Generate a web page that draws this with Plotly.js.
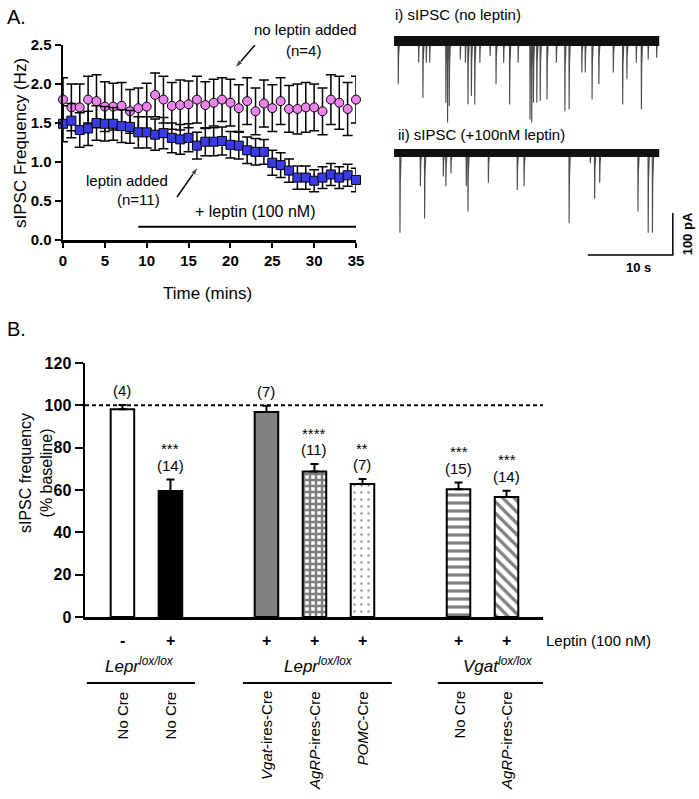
<!DOCTYPE html>
<html>
<head>
<meta charset="utf-8">
<script src="https://cdn.plot.ly/plotly-3.0.1.min.js"></script>
<style>html,body{margin:0;padding:0;background:#fff;}#chart{width:699px;height:799px;}</style>
</head>
<body>
<div id="chart"></div>
<script>
// ---------- Panel A data: time course ----------
const timeMins = [0,1,2,3,4,5,6,7,8,9,10,11,12,13,14,15,16,17,18,19,20,21,22,23,24,25,26,27,28,29,30,31,32,33,34,35];
const noLeptinMean = [1.80,1.70,1.70,1.80,1.78,1.71,1.71,1.72,1.65,1.69,1.71,1.86,1.80,1.72,1.73,1.74,1.80,1.73,1.76,1.80,1.76,1.69,1.78,1.65,1.75,1.69,1.78,1.68,1.68,1.70,1.70,1.65,1.80,1.76,1.68,1.80];
const noLeptinSem = [0.28,0.30,0.30,0.30,0.34,0.32,0.30,0.30,0.28,0.26,0.30,0.28,0.30,0.30,0.32,0.30,0.30,0.30,0.30,0.28,0.30,0.30,0.30,0.30,0.30,0.30,0.30,0.30,0.32,0.32,0.30,0.30,0.32,0.34,0.34,0.30];
const leptinMean = [1.49,1.53,1.41,1.43,1.50,1.49,1.49,1.46,1.45,1.38,1.38,1.35,1.37,1.31,1.29,1.31,1.21,1.26,1.26,1.27,1.22,1.21,1.15,1.13,1.13,0.99,0.96,0.89,0.80,0.80,0.76,0.80,0.84,0.80,0.83,0.77];
const leptinSem = [0.23,0.22,0.22,0.22,0.22,0.22,0.21,0.21,0.21,0.20,0.20,0.20,0.20,0.19,0.19,0.18,0.17,0.18,0.18,0.18,0.17,0.17,0.17,0.17,0.16,0.16,0.16,0.15,0.15,0.15,0.14,0.14,0.14,0.14,0.14,0.15];
const panelATicks = [0,5,10,15,20,25,30,35];
const panelAYTicks = [0,0.5,1.0,1.5,2.0,2.5];
const leptinStart = 9, leptinEnd = 35;

// ---------- Example traces (event times in s, amplitudes in pA) ----------
const trace1Times = [0.5,2.9,3.4,3.8,4.2,6.1,6.3,6.5,7.8,8.4,8.7,9.1,9.5,10.1,11.3,12.0,12.9,13.6,14.6,16.0,16.2,16.4,16.8,17.2,18.0,19.1,20.1,20.6,22.1,22.5,23.3,24.1,25.8,26.9,27.4,28.5,29.1,29.9,30.9];
const trace1Amps  = [103,52,135,52,52,147,194,155,44,52,151,131,151,52,36,103,52,151,52,187,194,147,147,143,139,52,167,163,75,75,139,103,75,151,91,52,163,44,40];
const trace2Times = [0.7,3.1,3.6,5.8,6.1,6.7,8.5,8.7,11.1,14.5,15.3,20.6,23.1,23.6,24.2,28.7,29.9,30.4];
const trace2Amps  = [190,79,156,56,79,48,79,139,71,88,79,167,24,109,71,139,190,190];
const traceDuration = 31.2;
const scaleBarSec = 10, scaleBarPA = 100;

// ---------- Panel B data: bars ----------
const barGroups = [0,0,1,1,1,2,2];
const barMeans = [98.2,59.5,96.8,68.7,62.8,60.3,56.7];
const barSem   = [2.0,5.5,3.0,3.6,2.4,3.2,3.0];
const barN     = ['(4)','(14)','(7)','(11)','(7)','(15)','(14)'];
const barStars = ['','***','','****','**','***','***'];
const leptinSigns = ['-','+','+','+','+','+','+'];
const creLabels = ['No Cre','No Cre','<i>Vgat</i>-ires-Cre','<i>AgRP</i>-ires-Cre','<i>POMC</i>-Cre','No Cre','<i>AgRP</i>-ires-Cre'];
const groupLabels = ['<i>Lepr</i><sup><i>lox/lox</i></sup>','<i>Lepr</i><sup><i>lox/lox</i></sup>','<i>Vgat</i><sup><i>lox/lox</i></sup>'];
const panelBYTicks = [0,20,40,60,80,100,120];
const baselineRef = 100;

// ---------- helpers ----------
const W = 699, H = 799;
const px = v => v / W;
const py = v => (H - v) / H;
const FONT = 'Arial, "Liberation Sans", sans-serif';
const barX = barGroups.map((g, i) => i + g);
// panel A pixel -> data helpers (for annotation arrows only)
const ax0 = 63, axW = 293, ay0 = 240, ayH = 195;
const tA = p => (p - ax0) / axW * 35;
const vA = p => (ay0 - p) / ayH * 2.5;

const data = [];
// Panel A
data.push({
  type:'scatter', mode:'markers', x:timeMins, y:noLeptinMean, xaxis:'x', yaxis:'y', cliponaxis:false,
  error_y:{type:'data', array:noLeptinSem, color:'#000', thickness:1.5, width:5},
  marker:{symbol:'circle', size:9, color:'#ee82ee', line:{color:'#000', width:1}}
});
data.push({
  type:'scatter', mode:'markers', x:timeMins, y:leptinMean, xaxis:'x', yaxis:'y', cliponaxis:false,
  error_y:{type:'data', array:leptinSem, color:'#000', thickness:1.5, width:5},
  marker:{symbol:'square', size:9, color:'#3a3ae6', line:{color:'#000', width:1}}
});
data.push({type:'scatter', mode:'lines', x:[leptinStart, leptinEnd], y:[0.17,0.17], xaxis:'x', yaxis:'y', line:{color:'#000', width:2}, cliponaxis:false});
// arrows
[[[255,45],[235,68]], [[177,197],[198,167]]].forEach(([tail, head]) => {
  data.push({type:'scatter', mode:'lines+markers', x:[tA(tail[0]), tA(head[0])], y:[vA(tail[1]), vA(head[1])], xaxis:'x', yaxis:'y', cliponaxis:false,
    line:{color:'#000', width:1.5}, marker:{symbol:['circle','arrow'], size:[0,9], angleref:'previous', color:'#000'}});
});

// Example traces
function buildTrace(times, amps, base) {
  const xs = [], ys = [];
  times.forEach((t, i) => {
    xs.push(t - 0.02, t, t + 0.04, t + 0.15, null);
    ys.push(base, base - amps[i], base - amps[i]*0.35, base, null);
  });
  return {xs, ys};
}
const base1 = 0, base2 = -266.7;
[[trace1Times, trace1Amps, base1, 10],[trace2Times, trace2Amps, base2, 8]].forEach(([tt, aa, b, w]) => {
  const tr = buildTrace(tt, aa, b);
  data.push({type:'scatter', mode:'lines', x:tr.xs, y:tr.ys, xaxis:'x2', yaxis:'y2', line:{color:'#4a4a4a', width:1.1}, connectgaps:false});
  data.push({type:'scatter', mode:'lines', x:[0, traceDuration], y:[b, b], xaxis:'x2', yaxis:'y2', line:{color:'#111', width:w}});
});
const sbX0 = 22.8, sbY0 = -509.5;
data.push({type:'scatter', mode:'lines', x:[sbX0, sbX0 + scaleBarSec, sbX0 + scaleBarSec], y:[sbY0, sbY0, sbY0 + scaleBarPA], xaxis:'x2', yaxis:'y2', line:{color:'#000', width:1.5}});

// Panel B bars
const barStyles = [
  {color:'#fff'},
  {color:'#000'},
  {color:'#808080'},
  {color:'#fff', pattern:{shape:'+', fgcolor:'#000', bgcolor:'#fff', size:6, solidity:0.65, fillmode:'overlay'}},
  {color:'#fff', pattern:{shape:'.', fgcolor:'#333', bgcolor:'#fff', size:7, solidity:0.1, fillmode:'overlay'}},
  {color:'#fff', pattern:{shape:'-', fgcolor:'#000', bgcolor:'#fff', size:8, solidity:0.4, fillmode:'overlay'}},
  {color:'#fff', pattern:{shape:'\\', fgcolor:'#000', bgcolor:'#fff', size:8, solidity:0.4, fillmode:'overlay'}}
];
barMeans.forEach((m, i) => {
  const mk = {color:barStyles[i].color, line:{color:'#000', width:2}};
  if (barStyles[i].pattern) mk.pattern = barStyles[i].pattern;
  data.push({
    type:'bar', x:[barX[i]], y:[m], width:0.49, xaxis:'x3', yaxis:'y3', marker:mk,
    error_y:{type:'data', symmetric:false, array:[barSem[i]], arrayminus:[0], color:'#000', thickness:2, width:4}
  });
});

const tickFontBold = {family:FONT, size:15, color:'#000', weight:'bold'};
const layout = {
  width:W, height:H, margin:{l:0,r:0,t:0,b:0}, paper_bgcolor:'#fff', plot_bgcolor:'rgba(0,0,0,0)',
  showlegend:false, font:{family:FONT, color:'#000'},
  xaxis:{domain:[px(63), px(356)], range:[0,35], anchor:'y', showline:true, linewidth:2.5, linecolor:'#000',
    ticks:'outside', ticklen:5, tickwidth:2, tickcolor:'#000', tickvals:panelATicks, showgrid:false, zeroline:false, tickfont:tickFontBold},
  yaxis:{domain:[py(240), py(45)], range:[0,2.5], anchor:'x', showline:true, linewidth:2.5, linecolor:'#000',
    ticks:'outside', ticklen:6, tickwidth:2, tickcolor:'#000', tickvals:panelAYTicks, tickformat:'.1f', showgrid:false, zeroline:false, tickfont:tickFontBold},
  xaxis2:{domain:[px(385), px(690)], range:[-1.06, 34.82], anchor:'y2', visible:false},
  yaxis2:{domain:[py(280), py(5)], range:[-569, 85.7], anchor:'x2', visible:false},
  xaxis3:{domain:[px(85), px(543)], range:[-0.78, 8.76], anchor:'y3', showline:true, linewidth:2.5, linecolor:'#000',
    ticks:'', showticklabels:false, showgrid:false, zeroline:false},
  yaxis3:{domain:[py(617), py(363)], range:[0,120], anchor:'x3', showline:true, linewidth:2.5, linecolor:'#000',
    ticks:'outside', ticklen:8, tickwidth:2, tickcolor:'#000', tickvals:panelBYTicks, showgrid:false, zeroline:false,
    tickfont:{family:FONT, size:16, color:'#000', weight:'bold'}},
  shapes:[], annotations:[]
};

const A = layout.annotations, S = layout.shapes;
const txt = (o) => A.push(Object.assign({showarrow:false, xanchor:'center', yanchor:'middle', font:{family:FONT, size:15, color:'#000'}}, o));
const P = (x, y, o) => txt(Object.assign({xref:'paper', yref:'paper', x:px(x), y:py(y)}, o));

// Panel labels and titles
P(5, 17, {text:'A.', xanchor:'left', font:{family:FONT, size:20}});
P(5, 329, {text:'B.', xanchor:'left', font:{family:FONT, size:20}});
P(20, 143, {text:'sIPSC Frequency (Hz)', textangle:-90, font:{family:FONT, size:17}});
P(207, 293, {text:'Time (mins)', font:{family:FONT, size:17}});
P(36, 473, {text:'sIPSC frequency<br>(% baseline)', textangle:-90, font:{family:FONT, size:16}});

// Panel A annotations
P(305, 30, {text:'no leptin added'});
P(303, 50, {text:'(n=4)'});
P(127, 180, {text:'leptin added'});
P(138, 200, {text:'(n=11)'});
P(255, 212, {text:'+ leptin (100 nM)', font:{family:FONT, size:16}});

// Example trace labels
P(393, 14, {text:'i) sIPSC (no leptin)', xanchor:'left'});
P(396, 135, {text:'ii) sIPSC (+100nM leptin)', xanchor:'left'});
txt({text:'<b>10 s</b>', xref:'x2', yref:'y2', x:sbX0 + scaleBarSec*0.6, y:sbY0, yanchor:'top', yshift:-3, font:{family:FONT, size:13}});
txt({text:'<b>100 pA</b>', xref:'x2', yref:'y2', x:sbX0 + scaleBarSec, y:sbY0 + scaleBarPA/2, xanchor:'left', xshift:5, textangle:-90, font:{family:FONT, size:13}});

// Panel B
S.push({type:'line', xref:'x3', yref:'y3', x0:-0.78, x1:8.76, y0:baselineRef, y1:baselineRef, line:{color:'#000', width:2, dash:'4px,3px'}});
barMeans.forEach((m, i) => {
  const top = m + barSem[i];
  txt({text:barN[i], xref:'x3', yref:'y3', x:barX[i], y:top + 6.8, font:{family:FONT, size:15}});
  if (barStars[i]) txt({text:barStars[i], xref:'x3', yref:'y3', x:barX[i], y:top + 14.5, font:{family:FONT, size:15}});
  txt({text:'<b>' + leptinSigns[i] + '</b>', xref:'x3', yref:'paper', x:barX[i], y:py(640), font:{family:FONT, size:16}});
  txt({text:creLabels[i], xref:'x3', yref:'paper', x:barX[i], y:py(689), yanchor:'top', textangle:-90, font:{family:FONT, size:15}});
});
P(544, 640, {text:'Leptin (100 nM)', xanchor:'left'});
const groupSpans = [[-0.74,1.51],[2.51,5.61],[6.57,8.76]];
const groupTextX = [0.36,4.09,7.82];
groupLabels.forEach((g, k) => {
  S.push({type:'line', xref:'x3', yref:'paper', x0:groupSpans[k][0], x1:groupSpans[k][1], y0:py(683), y1:py(683), line:{color:'#000', width:2}});
  txt({text:g, xref:'x3', yref:'paper', x:groupTextX[k], y:py(665), font:{family:FONT, size:17}});
});

Plotly.newPlot('chart', data, layout, {staticPlot:true, displayModeBar:false});
</script>
</body>
</html>
